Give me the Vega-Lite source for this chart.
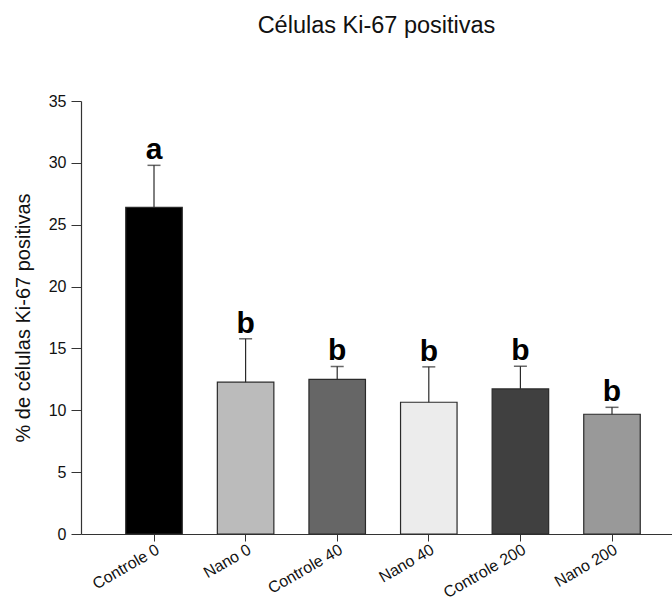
{
  "$schema": "https://vega.github.io/schema/vega-lite/v6.json",
  "autosize": {"type": "none"},
  "padding": {"left": 81, "top": 101, "right": 0, "bottom": 65},
  "width": 591,
  "height": 433,
  "background": "white",
  "config": {
    "view": {"stroke": null},
    "font": "Liberation Sans",
    "axis": {"grid": false, "domainColor": "#333333", "tickColor": "#333333", "labelColor": "#111111", "titleColor": "#111111", "labelFont": "Liberation Sans", "titleFont": "Liberation Sans", "titleFontWeight": "normal", "domainWidth": 1.2}
  },
  "title": {"text": "Células Ki-67 positivas", "fontSize": 23.5, "fontWeight": "normal", "font": "Liberation Sans", "color": "#111111", "anchor": "middle", "offset": 56},
  "data": {
    "values": [
      {"grupo": "Controle 0", "media": 26.4, "superior": 29.8, "letra": "a"},
      {"grupo": "Nano 0", "media": 12.27, "superior": 15.78, "letra": "b"},
      {"grupo": "Controle 40", "media": 12.5, "superior": 13.54, "letra": "b"},
      {"grupo": "Nano 40", "media": 10.65, "superior": 13.51, "letra": "b"},
      {"grupo": "Controle 200", "media": 11.73, "superior": 13.56, "letra": "b"},
      {"grupo": "Nano 200", "media": 9.68, "superior": 10.24, "letra": "b"}
    ]
  },
  "encoding": {
    "x": {
      "field": "grupo", "type": "nominal", "sort": null,
      "scale": {"paddingInner": 0.383, "paddingOuter": 0.4175, "align": 0.585},
      "axis": {"title": null, "labelAngle": -30, "labelFontSize": 16, "tickSize": 7, "labelPadding": 0}
    }
  },
  "layer": [
    {
      "mark": {"type": "bar", "stroke": "#2a2a2a", "strokeWidth": 1.2},
      "encoding": {
        "y": {
          "field": "media", "type": "quantitative",
          "scale": {"domain": [0, 35], "nice": false},
          "axis": {"title": "% de células Ki-67 positivas", "titleFontSize": 20, "titlePadding": 15, "labelFontSize": 16, "values": [0, 5, 10, 15, 20, 25, 30, 35], "tickSize": 10, "labelPadding": 5}
        },
        "color": {
          "field": "grupo", "type": "nominal", "legend": null,
          "scale": {
            "domain": ["Controle 0", "Nano 0", "Controle 40", "Nano 40", "Controle 200", "Nano 200"],
            "range": ["#000000", "#bbbbbb", "#666666", "#ececec", "#404040", "#999999"]
          }
        }
      }
    },
    {
      "mark": {"type": "rule", "color": "#2a2a2a", "strokeWidth": 1.2},
      "encoding": {
        "y": {
          "field": "media", "type": "quantitative",
          "axis": {"title": "% de células Ki-67 positivas", "titleFontSize": 20, "titlePadding": 15, "labelFontSize": 16, "values": [0, 5, 10, 15, 20, 25, 30, 35], "tickSize": 10, "labelPadding": 5}
        },
        "y2": {"field": "superior"}
      }
    },
    {
      "mark": {"type": "tick", "color": "#2a2a2a", "size": 13, "thickness": 1.5},
      "encoding": {
        "y": {
          "field": "superior", "type": "quantitative",
          "axis": {"title": "% de células Ki-67 positivas", "titleFontSize": 20, "titlePadding": 15, "labelFontSize": 16, "values": [0, 5, 10, 15, 20, 25, 30, 35], "tickSize": 10, "labelPadding": 5}
        }
      }
    },
    {
      "mark": {"type": "text", "fontSize": 30, "fontWeight": "bold", "baseline": "alphabetic", "dy": -6, "color": "#000000"},
      "encoding": {
        "y": {
          "field": "superior", "type": "quantitative",
          "axis": {"title": "% de células Ki-67 positivas", "titleFontSize": 20, "titlePadding": 15, "labelFontSize": 16, "values": [0, 5, 10, 15, 20, 25, 30, 35], "tickSize": 10, "labelPadding": 5}
        },
        "text": {"field": "letra"}
      }
    }
  ]
}
